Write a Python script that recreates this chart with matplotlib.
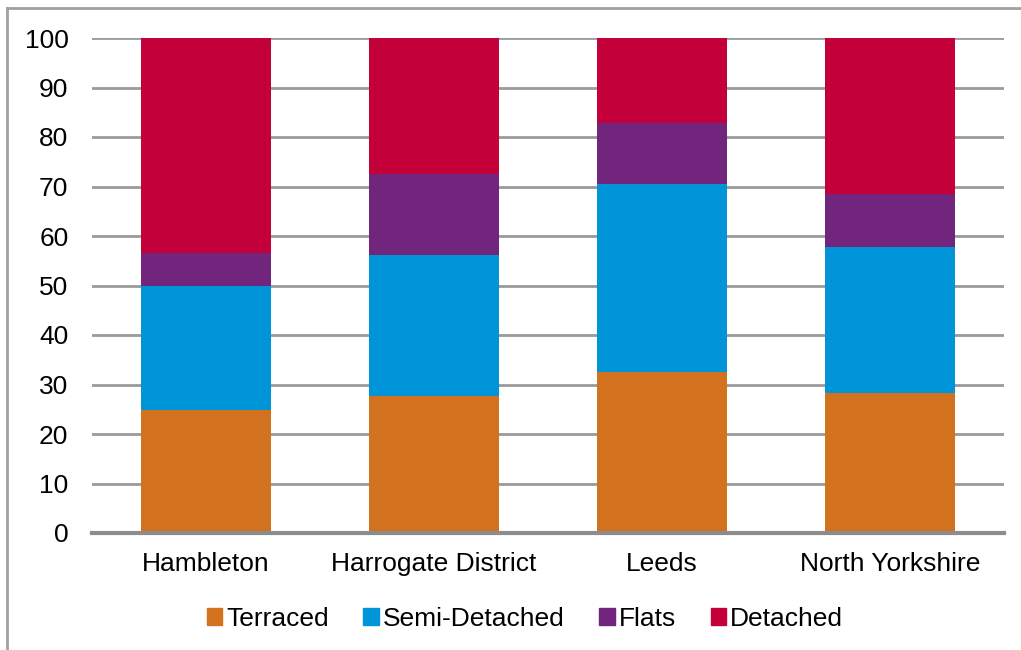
import numpy as np
import matplotlib
matplotlib.use("Agg")
import matplotlib.pyplot as plt
from matplotlib.lines import Line2D

plt.rcParams['font.family'] = ['Liberation Sans', 'DejaVu Sans']

# data (% of dwellings)
areas = ["Hambleton", "Harrogate District", "Leeds", "North Yorkshire"]
terraced = [24.8, 27.7, 32.6, 28.3]
semi_detached = [25.0, 28.5, 37.9, 29.5]
flats = [6.7, 16.3, 12.3, 10.7]
detached = [43.5, 27.5, 17.2, 31.5]

series = ["Terraced", "Semi-Detached", "Flats", "Detached"]
colours = ["#D2711E", "#0094D8", "#72257D", "#C3003A"]

fig = plt.figure(figsize=(10.21, 6.5), dpi=100)
ax = fig.add_axes([92 / 1021, 1 - 533 / 650, 912 / 1021, 495 / 650])

x = np.arange(len(areas))
bottom = np.zeros(len(areas))
for name, vals, col in zip(series, [terraced, semi_detached, flats, detached], colours):
    ax.bar(x, vals, 0.57, bottom=bottom, color=col, label=name, zorder=3)
    bottom += np.array(vals)

ax.set_xlim(-0.5, 3.5)
ax.set_ylim(0, 100)
ax.set_yticks(range(0, 101, 10))
ax.yaxis.grid(True, color="#9a9a9a", linewidth=2, zorder=0)
ax.set_xticks(x)
ax.set_xticklabels(areas)
ax.tick_params(axis="both", length=0, labelsize=19)
ax.tick_params(axis="x", pad=14)
ax.tick_params(axis="y", pad=17)
for s in ["top", "right", "left"]:
    ax.spines[s].set_visible(False)
ax.spines["bottom"].set_color("#8c8c8c")
ax.spines["bottom"].set_linewidth(3)
ax.spines["bottom"].set_zorder(4)

handles = [plt.Rectangle((0, 0), 1, 1, color=c) for c in colours]
fig.legend(handles, series, loc="center", bbox_to_anchor=(525 / 1021, 1 - 619 / 650),
           ncol=4, frameon=False, fontsize=19, handlelength=0.6, handleheight=0.6,
           handletextpad=0.15, columnspacing=1.3)

# outer border (left and top visible)
fig.add_artist(Line2D([7 / 1021, 7 / 1021], [0, 1 - 8 / 650], transform=fig.transFigure,
                      color="#a0a0a0", linewidth=2))
fig.add_artist(Line2D([7 / 1021, 1], [1 - 8 / 650, 1 - 8 / 650], transform=fig.transFigure,
                      color="#a0a0a0", linewidth=2))

fig.savefig("out.png", dpi=100)
